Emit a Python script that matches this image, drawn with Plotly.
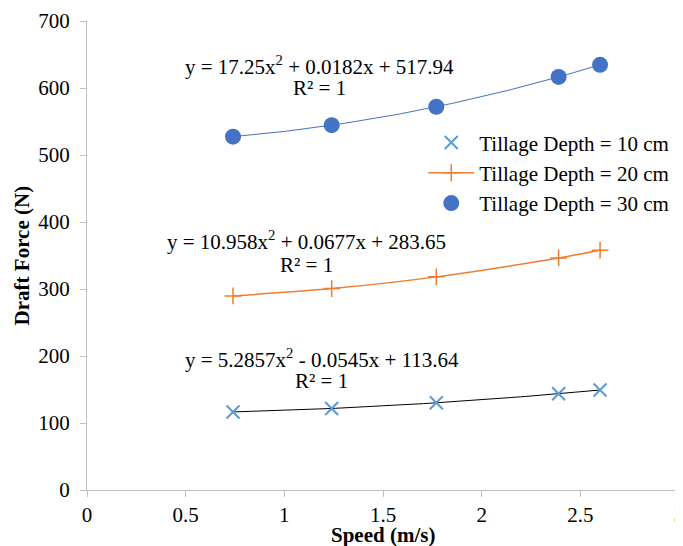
import numpy as np
import plotly.graph_objects as go

# Data
speed = [0.74, 1.24, 1.77, 2.39, 2.60]
depth_10 = [116.5, 121.7, 130.1, 143.7, 149.2]
depth_20 = [289.7, 300.6, 318.1, 346.4, 357.9]
depth_30 = [527.4, 544.5, 572.0, 616.5, 634.6]

series_names = ["Tillage Depth = 10 cm", "Tillage Depth = 20 cm", "Tillage Depth = 30 cm"]
equations = ["y = 5.2857x<sup>2</sup> - 0.0545x + 113.64",
             "y = 10.958x<sup>2</sup> + 0.0677x + 283.65",
             "y = 17.25x<sup>2</sup> + 0.0182x + 517.94"]
r2_label = "R² = 1"
x_ticks = [0, 0.5, 1, 1.5, 2, 2.5, 3]
y_ticks = [0, 100, 200, 300, 400, 500, 600, 700]

FONT = "Liberation Serif"
BLUE_X = "#5B9BD5"
ORANGE = "#ED7D31"
BLUE = "#4472C4"
AXIS = "#BFBFBF"

def trend(xs, ys):
    c = np.polyfit(xs, ys, 2)
    xf = np.linspace(min(xs), max(xs), 80)
    return xf, np.polyval(c, xf)

fig = go.Figure()

# trendlines
tx, ty = trend(speed, depth_10)
fig.add_trace(go.Scatter(x=tx, y=ty, mode="lines", line=dict(color="black", width=1), showlegend=False, hoverinfo="skip"))
tx, ty = trend(speed, depth_30)
fig.add_trace(go.Scatter(x=tx, y=ty, mode="lines", line=dict(color=BLUE, width=1), showlegend=False, hoverinfo="skip"))

# series
fig.add_trace(go.Scatter(x=speed, y=depth_10, mode="markers", name=series_names[0],
                         marker=dict(symbol="x-thin", size=13, line=dict(color=BLUE_X, width=2), color=BLUE_X)))
fig.add_trace(go.Scatter(x=speed, y=depth_20, mode="lines+markers", name=series_names[1],
                         line=dict(color=ORANGE, width=1.5, shape="spline"),
                         marker=dict(symbol="cross-thin", size=12, line=dict(color=ORANGE, width=1.5), color=ORANGE)))
fig.add_trace(go.Scatter(x=speed, y=depth_30, mode="markers", name=series_names[2],
                         marker=dict(symbol="circle", size=16, color=BLUE)))

# equation labels
eq_pos = [(1.19, 197, 163), (1.11, 372, 336), (1.18, 633, 600)]
for (xc, y1, y2), eq in zip(eq_pos, equations):
    fig.add_annotation(x=xc, y=y1, xref="x", yref="y", text=eq, showarrow=False,
                       font=dict(family=FONT, size=21, color="black"))
    fig.add_annotation(x=xc, y=y2, xref="x", yref="y", text=r2_label, showarrow=False,
                       font=dict(family=FONT, size=21, color="black"))

# axis titles
fig.add_annotation(x=0.5, y=-0.096, xref="paper", yref="paper", text="<b>Speed (m/s)</b>",
                   showarrow=False, yanchor="middle", font=dict(family=FONT, size=21, color="black"))
fig.add_annotation(x=-0.11, y=0.5, xref="paper", yref="paper", text="<b>Draft Force (N)</b>",
                   showarrow=False, textangle=-90, xanchor="center", font=dict(family=FONT, size=21, color="black"))

# page body adds an 8px offset, so the figure is sized to fit inside the window
fig.update_layout(
    width=675, height=538,
    margin=dict(l=79, r=4, t=13, b=56, autoexpand=False),
    paper_bgcolor="white", plot_bgcolor="white",
    font=dict(family=FONT, size=21, color="black"),
    legend=dict(x=0.568, y=0.784, xanchor="left", yanchor="top", bgcolor="rgba(0,0,0,0)",
                font=dict(family=FONT, size=21, color="black"), itemwidth=46),
    xaxis=dict(range=[0, 3], tickvals=x_ticks, ticktext=[f"{v:g}" for v in x_ticks],
               showline=True, linecolor=AXIS, linewidth=1.3, ticks="outside", ticklen=6,
               tickcolor=AXIS, tickwidth=1.3, showgrid=False, zeroline=False, automargin=False,
               ticklabeloverflow="allow",
               tickfont=dict(family=FONT, size=21, color="black")),
    yaxis=dict(range=[0, 700], tickvals=y_ticks, ticktext=[str(v) for v in y_ticks],
               showline=True, linecolor=AXIS, linewidth=1.3, ticks="outside", ticklen=6,
               tickcolor=AXIS, tickwidth=1.3, showgrid=False, zeroline=False, automargin=False,
               tickfont=dict(family=FONT, size=21, color="black"), ticklabelstandoff=6),
)

fig.write_html("out.html")
